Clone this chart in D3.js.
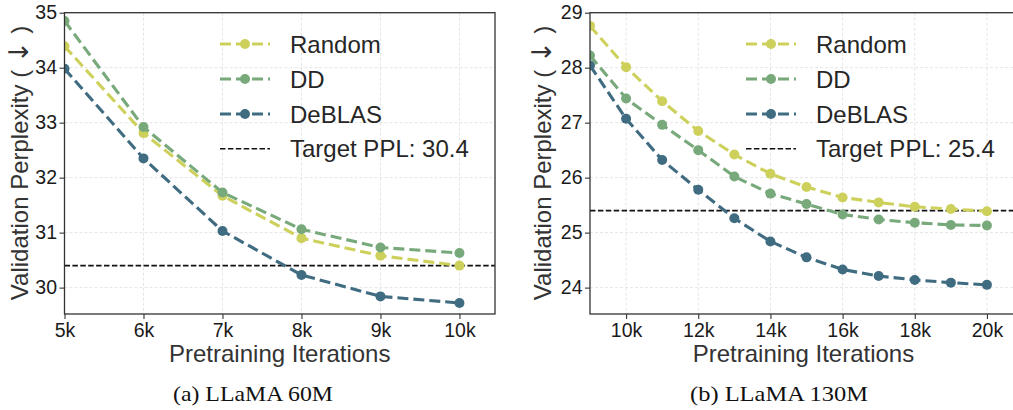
<!DOCTYPE html>
<html>
<head>
<meta charset="utf-8">
<script src="https://cdn.jsdelivr.net/npm/d3@7"></script>
<style>
  body { margin: 0; background: #fff; }
  svg text { font-family: "Liberation Sans", Arial, sans-serif; fill: #262626; }
</style>
</head>
<body>
<svg id="chart" width="1013" height="410"></svg>
<script>
// data (iterations in thousands)
var methods = ["Random", "DD", "DeBLAS"];
var colors = ["#cdd15c", "#77a97b", "#406c82"];

var leftIters = [5, 6, 7, 8, 9, 10];
var leftRandom = [34.39, 32.81, 31.67, 30.90, 30.58, 30.40];
var leftDD = [34.85, 32.92, 31.73, 31.06, 30.73, 30.63];
var leftDeBLAS = [33.98, 32.35, 31.03, 30.23, 29.84, 29.72];
var leftTarget = 30.4;
var leftXTicks = [5, 6, 7, 8, 9, 10];
var leftYTicks = [30, 31, 32, 33, 34, 35];

var rightIters = [9, 10, 11, 12, 13, 14, 15, 16, 17, 18, 19, 20];
var rightRandom = [28.76, 28.01, 27.39, 26.85, 26.42, 26.07, 25.83, 25.64, 25.55, 25.47, 25.43, 25.39];
var rightDD = [28.22, 27.44, 26.96, 26.50, 26.02, 25.71, 25.52, 25.33, 25.24, 25.18, 25.14, 25.13];
var rightDeBLAS = [28.04, 27.07, 26.32, 25.78, 25.26, 24.84, 24.55, 24.33, 24.21, 24.14, 24.09, 24.05];
var rightTarget = 25.4;
var rightXTicks = [10, 12, 14, 16, 18, 20];
var rightYTicks = [24, 25, 26, 27, 28, 29];

var svg = d3.select("#chart");

function drawPanel(p) {
  var x = d3.scaleLinear().domain(p.xDomain).range([p.left, p.right]);
  var y = d3.scaleLinear().domain(p.yDomain).range([314, 12.7]);

  var g = svg.append("g");
  var clipId = "clip" + p.id;
  svg.append("clipPath").attr("id", clipId)
    .append("rect")
    .attr("x", p.left).attr("y", 12.7)
    .attr("width", p.right - p.left).attr("height", 314 - 12.7);

  // grid
  g.append("g").selectAll("line").data(p.xTicks).enter().append("line")
    .attr("x1", d => x(d)).attr("x2", d => x(d))
    .attr("y1", 12.7).attr("y2", 314)
    .style("stroke", "#dedede").style("stroke-width", 0.8).style("stroke-dasharray", "3,2");
  g.append("g").selectAll("line").data(p.yTicks).enter().append("line")
    .attr("x1", p.left).attr("x2", p.right)
    .attr("y1", d => y(d)).attr("y2", d => y(d))
    .style("stroke", "#dedede").style("stroke-width", 0.8).style("stroke-dasharray", "3,2");

  var plot = g.append("g").attr("clip-path", "url(#" + clipId + ")");

  // target line
  plot.append("line")
    .attr("x1", p.left).attr("x2", p.right)
    .attr("y1", y(p.target)).attr("y2", y(p.target))
    .style("stroke", "#111").style("stroke-width", 1.6).style("stroke-dasharray", "5.5,2.4");

  var line = d3.line().x(d => x(d[0])).y(d => y(d[1]));

  p.series.forEach(function (vals, i) {
    var pts = p.iters.map((it, j) => [it, vals[j]]);
    plot.append("path").datum(pts)
      .attr("d", line)
      .style("fill", "none").style("stroke", colors[i])
      .style("stroke-width", 3.1).style("stroke-dasharray", "11,5");
    plot.append("g").selectAll("circle").data(pts).enter().append("circle")
      .attr("cx", d => x(d[0])).attr("cy", d => y(d[1]))
      .attr("r", 5).style("fill", colors[i]);
  });

  // spines
  g.append("rect")
    .attr("x", p.left).attr("y", 12.7)
    .attr("width", p.right - p.left).attr("height", 314 - 12.7)
    .style("fill", "none").style("stroke", "#333").style("stroke-width", 1.3);

  // axes
  var xa = g.append("g").attr("transform", "translate(0,314)")
    .call(d3.axisBottom(x).tickValues(p.xTicks).tickFormat(d => d + "k").tickSize(5).tickPadding(4.5));
  var ya = g.append("g").attr("transform", "translate(" + p.left + ",0)")
    .call(d3.axisLeft(y).tickValues(p.yTicks).tickFormat(d3.format("d")).tickSize(5).tickPadding(2.5));
  [xa, ya].forEach(function (a) {
    a.select(".domain").remove();
    a.selectAll(".tick line").style("stroke", "#333").style("stroke-width", 1.1);
    a.selectAll(".tick text").style("font-size", "19.5px").style("fill", "#1a1a1a")
      .style("font-family", "'Liberation Sans', Arial, sans-serif");
  });

  // axis labels
  g.append("text")
    .attr("x", (p.left + Math.min(p.right, 1013)) / 2 + p.xLabelShift).attr("y", 362)
    .attr("text-anchor", "middle").style("font-size", "24px").style("fill", "#333")
    .text("Pretraining Iterations");
  var yl = g.append("text")
    .attr("transform", "translate(" + p.yLabelX + "," + 163 + ")rotate(-90)")
    .attr("text-anchor", "middle").style("font-size", "24px").style("fill", "#333");
  yl.append("tspan").text("Validation Perplexity ( ");
  yl.append("tspan").style("font-family", "'DejaVu Sans', sans-serif").style("font-size", "27px").text("\u2193");
  yl.append("tspan").text(" )");

  // legend
  var rows = [44, 79, 114, 148.7];
  var lg = g.append("g");
  methods.forEach(function (m, i) {
    lg.append("line")
      .attr("x1", p.legendX).attr("x2", p.legendX + 50)
      .attr("y1", rows[i]).attr("y2", rows[i])
      .style("stroke", colors[i]).style("stroke-width", 3.1).style("stroke-dasharray", "11,5");
    lg.append("circle").attr("cx", p.legendX + 25).attr("cy", rows[i]).attr("r", 5)
      .style("fill", colors[i]);
    lg.append("text").attr("x", p.legendX + 70).attr("y", rows[i] + 8.6)
      .style("font-size", "24px").text(m);
  });
  lg.append("line")
    .attr("x1", p.legendX).attr("x2", p.legendX + 50)
    .attr("y1", rows[3]).attr("y2", rows[3])
    .style("stroke", "#111").style("stroke-width", 1.6).style("stroke-dasharray", "5.5,2.4");
  lg.append("text").attr("x", p.legendX + 70).attr("y", rows[3] + 8.6)
    .style("font-size", "24px").text("Target PPL: " + p.target);

  // caption
  svg.append("text")
    .attr("x", p.captionX).attr("y", 401)
    .attr("text-anchor", "middle")
    .attr("textLength", p.captionW).attr("lengthAdjust", "spacingAndGlyphs")
    .style("font-family", "'Liberation Serif', 'Times New Roman', serif")
    .style("font-size", "22px").style("fill", "#111")
    .text(p.caption);
}

drawPanel({
  id: "a", left: 64.5, right: 495,
  xDomain: [5, 10.45], yDomain: [29.52, 35],
  iters: leftIters, series: [leftRandom, leftDD, leftDeBLAS], target: leftTarget,
  xTicks: leftXTicks, yTicks: leftYTicks,
  yLabelX: 28, xLabelShift: 0, legendX: 220,
  caption: "(a) LLaMA 60M", captionX: 253, captionW: 160
});

drawPanel({
  id: "b", left: 590, right: 1015.8,
  xDomain: [9, 20.8], yDomain: [23.52, 29],
  iters: rightIters, series: [rightRandom, rightDD, rightDeBLAS], target: rightTarget,
  xTicks: rightXTicks, yTicks: rightYTicks,
  yLabelX: 551, xLabelShift: 2, legendX: 746,
  caption: "(b) LLaMA 130M", captionX: 779, captionW: 178
});
</script>
</body>
</html>
